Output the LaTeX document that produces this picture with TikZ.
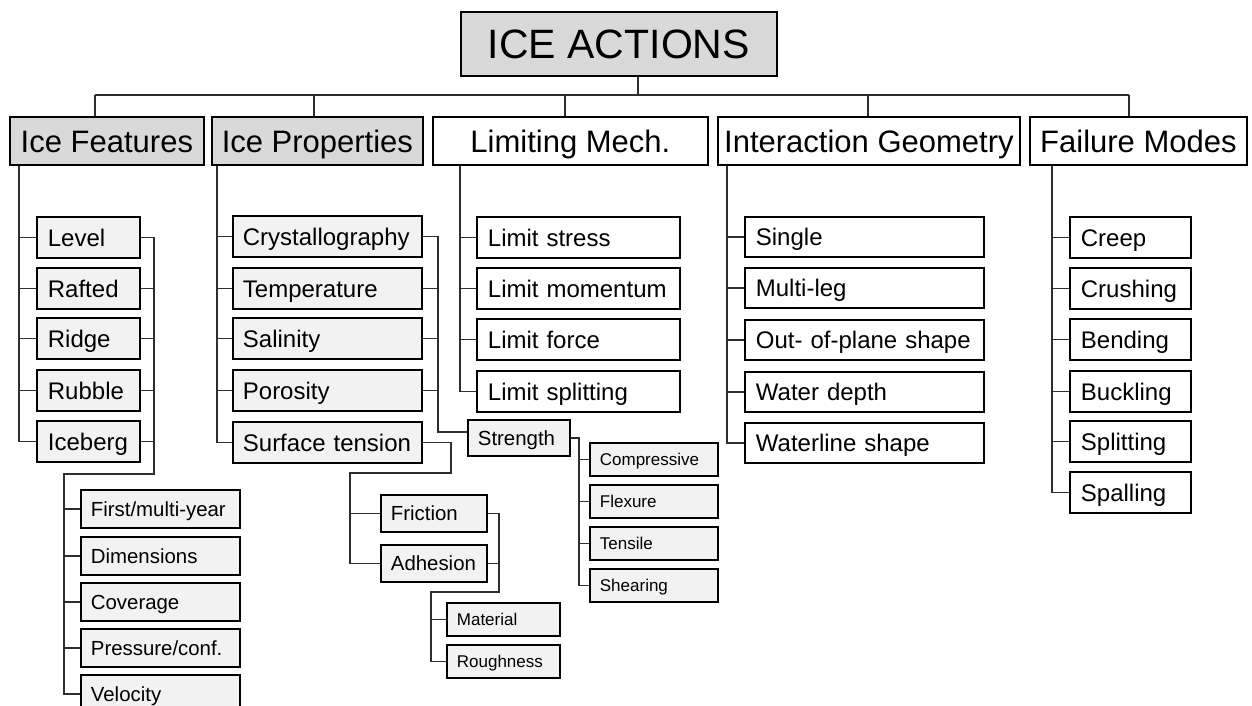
\documentclass[tikz,border=0pt]{standalone}
\usepackage{fontspec}
\setmainfont{Liberation Sans}
\definecolor{headgray}{HTML}{D9D9D9}
\definecolor{leafgray}{HTML}{F2F2F2}
\definecolor{lncol}{HTML}{2E2E2E}
\tikzset{
  hd/.style={draw=black, line width=1.8pt, anchor=north west, inner sep=0pt, align=center,
    font=\fontsize{31}{36}\selectfont, text height=27.9pt, text depth=5.6pt, minimum height=48pt},
  bx/.style={draw=black, line width=1.8pt, anchor=north west, inner ysep=0pt, inner xsep=11pt, align=left},
  fA/.style={font=\fontsize{24}{28}\selectfont, text height=21.6pt, text depth=4.3pt},
  fB/.style={font=\fontsize{20.4}{24}\selectfont, text height=18.4pt, text depth=3.7pt},
  fC/.style={font=\fontsize{17}{20}\selectfont, text height=15.3pt, text depth=3.1pt},
  ln/.style={draw=lncol, line width=1.3pt},
}
\begin{document}
\begin{tikzpicture}[x=1pt,y=-1pt]
\clip (0,0) rectangle (1252,706);
\fill[white] (0,0) rectangle (1252,706);
% title and heads
\node[hd, fill=headgray, minimum width=316pt, minimum height=64pt, font=\fontsize{41}{48}\selectfont, text height=36.9pt, text depth=7.4pt] (title) at (460,11) {ICE ACTIONS};
\node[hd, fill=headgray, minimum width=194pt] (IF) at (9,116) {Ice Features};
\node[hd, fill=headgray, minimum width=211pt] (IP) at (211,116) {Ice Properties};
\node[hd, fill=white, minimum width=275pt] (LM) at (432,116) {Limiting Mech.};
\node[hd, fill=white, minimum width=302pt] (IG) at (717,116) {Interaction Geometry};
\node[hd, fill=white, minimum width=217pt] (FM) at (1029,116) {Failure Modes};
% Ice Features children
\tikzset{ifc/.style={bx, fA, fill=leafgray, text width=81pt, minimum height=41pt}}
\node[ifc] (Level) at (36,216) {Level};
\node[ifc] (Rafted) at (36,267) {Rafted};
\node[ifc] (Ridge) at (36,317) {Ridge};
\node[ifc] (Rubble) at (36,369) {Rubble};
\node[ifc] (Iceberg) at (36,420) {Iceberg};
\tikzset{ifs/.style={bx, fB, fill=leafgray, inner xsep=10pt, text width=139pt, minimum height=38pt}}
\node[ifs] (First) at (80,489) {First/multi-year};
\node[ifs] (Dim) at (80,536) {Dimensions};
\node[ifs] (Cov) at (80,582) {Coverage};
\node[ifs] (Press) at (80,628) {Pressure/conf.};
\node[ifs] (Vel) at (80,674) {Velocity};
% Ice Properties children
\tikzset{ipc/.style={bx, fA, fill=leafgray, inner xsep=10pt, text width=169pt, minimum height=41pt}}
\node[ipc] (Cryst) at (232,215) {Crystallography};
\node[ipc] (Temp) at (232,267) {Temperature};
\node[ipc] (Sal) at (232,317) {Salinity};
\node[ipc] (Por) at (232,369) {Porosity};
\node[ipc] (Surf) at (232,421) {Surface tension};
\node[bx, fB, fill=leafgray, inner xsep=10pt, text width=82pt, minimum height=36pt] (Strength) at (467,419) {Strength};
\tikzset{stc/.style={bx, fC, fill=leafgray, inner xsep=10pt, text width=108pt, minimum height=33pt}}
\node[stc] (Comp) at (589,442) {Compressive};
\node[stc] (Flex) at (589,484) {Flexure};
\node[stc] (Tens) at (589,526) {Tensile};
\node[stc] (Shear) at (589,568) {Shearing};
\tikzset{frc/.style={bx, fB, fill=leafgray, inner xsep=10pt, text width=86pt, minimum height=37pt}}
\node[frc] (Friction) at (380,494) {Friction};
\node[frc] (Adhesion) at (380,544) {Adhesion};
\tikzset{mtc/.style={bx, fC, fill=leafgray, inner xsep=10pt, text width=93pt, minimum height=33pt}}
\node[mtc] (Material) at (446,602) {Material};
\node[mtc] (Roughness) at (446,644) {Roughness};
% Limiting Mech children
\tikzset{lmc/.style={bx, fA, fill=white, text width=181pt, minimum height=41pt}}
\node[lmc] (LS) at (476,216) {Limit stress};
\node[lmc] (LMo) at (476,267) {Limit momentum};
\node[lmc] (LF) at (476,318) {Limit force};
\node[lmc] (LSp) at (476,370) {Limit splitting};
% Interaction Geometry children
\tikzset{igc/.style={bx, fA, fill=white, text width=217pt, minimum height=40pt}}
\node[igc] (Single) at (744,216) {Single};
\node[igc] (Multi) at (744,267) {Multi-leg};
\node[igc] (OOP) at (744,319) {Out- of-plane shape};
\node[igc] (WD) at (744,371) {Water depth};
\node[igc] (WL) at (744,422) {Waterline shape};
% Failure Modes children
\tikzset{fmc/.style={bx, fA, fill=white, text width=99pt, minimum height=41pt}}
\node[fmc] (Creep) at (1069,216) {Creep};
\node[fmc] (Crush) at (1069,267) {Crushing};
\node[fmc] (Bend) at (1069,318) {Bending};
\node[fmc] (Buck) at (1069,370) {Buckling};
\node[fmc] (Split) at (1069,420) {Splitting};
\node[fmc] (Spall) at (1069,471) {Spalling};
% coordinates
\coordinate (bus) at (0,95);
\coordinate (sT) at (638,0);
\coordinate (sIF) at (95,0);
\coordinate (sIP) at (314,0);
\coordinate (sLM) at (565,0);
\coordinate (sIG) at (868,0);
\coordinate (sFM) at (1129,0);
\coordinate (cIF) at (19,0);
\coordinate (cIP) at (217,0);
\coordinate (cLM) at (460,0);
\coordinate (cIG) at (727,0);
\coordinate (cFM) at (1052,0);
\coordinate (j1) at (154,474);
\coordinate (j2) at (64,474);
\coordinate (k1) at (438,432);
\coordinate (m1) at (451,473);
\coordinate (m2) at (350,473);
\coordinate (n1) at (499,592);
\coordinate (n2) at (431,592);
\coordinate (s1) at (579,0);
% top connectors
\draw[ln] (title.south -| sT) -- (bus -| sT);
\draw[ln] (bus -| sIF) -- (bus -| sFM);
\draw[ln] (bus -| sIF) -- (IF.north -| sIF);
\draw[ln] (bus -| sIP) -- (IP.north -| sIP);
\draw[ln] (bus -| sLM) -- (LM.north -| sLM);
\draw[ln] (bus -| sIG) -- (IG.north -| sIG);
\draw[ln] (bus -| sFM) -- (FM.north -| sFM);
% Ice Features
\draw[ln] (IF.south -| cIF) |- (Iceberg.west);
\foreach \n in {Level,Rafted,Ridge,Rubble} \draw[ln] (\n.west -| cIF) -- (\n.west);
\draw[ln] (Level.east) -| (j1) -- (j2) |- (Vel.west);
\foreach \n in {Rafted,Ridge,Rubble,Iceberg} \draw[ln] (\n.east) -- (\n.east -| j1);
\foreach \n in {First,Dim,Cov,Press} \draw[ln] (\n.west -| j2) -- (\n.west);
% Ice Properties
\draw[ln] (IP.south -| cIP) |- (Surf.west);
\foreach \n in {Cryst,Temp,Sal,Por} \draw[ln] (\n.west -| cIP) -- (\n.west);
\draw[ln] (Cryst.east) -| (k1) -- (k1 -| Strength.west);
\foreach \n in {Temp,Sal,Por} \draw[ln] (\n.east) -- (\n.east -| k1);
\draw[ln] (Surf.east) -| (m1) -- (m2) |- (Adhesion.west);
\draw[ln] (Friction.west -| m2) -- (Friction.west);
\draw[ln] (Friction.east) -| (n1) -- (n2) |- (Roughness.west);
\draw[ln] (Adhesion.east) -- (Adhesion.east -| n1);
\draw[ln] (Material.west -| n2) -- (Material.west);
\draw[ln] (Strength.east) -| (Shear.west -| s1) -- (Shear.west);
\foreach \n in {Comp,Flex,Tens} \draw[ln] (\n.west -| s1) -- (\n.west);
% Limiting Mech
\draw[ln] (LM.south -| cLM) |- (LSp.west);
\foreach \n in {LS,LMo,LF} \draw[ln] (\n.west -| cLM) -- (\n.west);
% Interaction Geometry
\draw[ln] (IG.south -| cIG) |- (WL.west);
\foreach \n in {Single,Multi,OOP,WD} \draw[ln] (\n.west -| cIG) -- (\n.west);
% Failure Modes
\draw[ln] (FM.south -| cFM) |- (Spall.west);
\foreach \n in {Creep,Crush,Bend,Buck,Split} \draw[ln] (\n.west -| cFM) -- (\n.west);
\end{tikzpicture}
\end{document}
